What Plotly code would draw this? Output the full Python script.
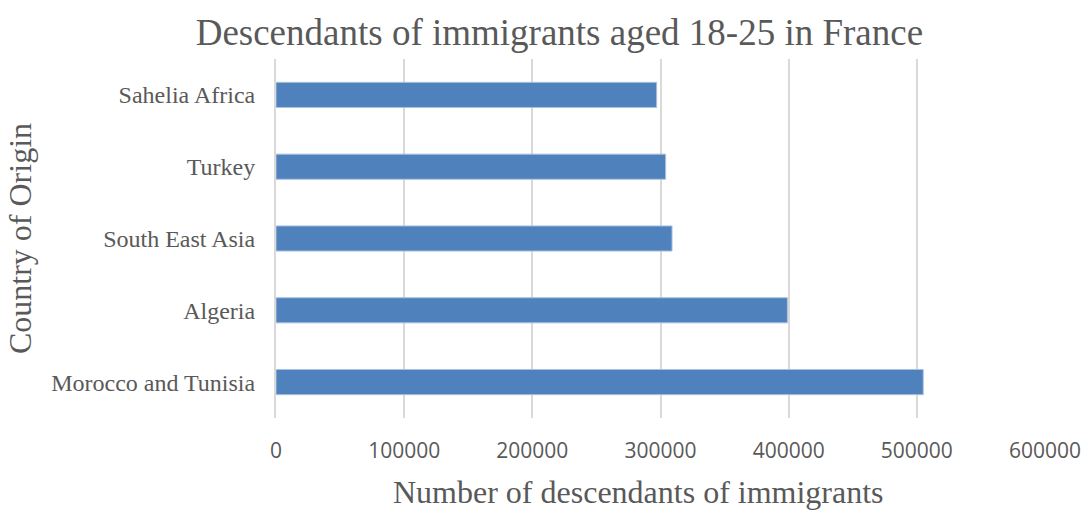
import plotly.graph_objects as go

categories = ["Morocco and Tunisia", "Algeria", "South East Asia", "Turkey", "Sahelia Africa"]
values = [505000, 399000, 309000, 304000, 297000]
x_ticks = [0, 100000, 200000, 300000, 400000, 500000, 600000]
x_tick_labels = [str(v) for v in x_ticks]

fig = go.Figure(go.Bar(
    y=categories, x=values, orientation="h",
    marker=dict(color="#4f81bd", line=dict(color="#a9c1e0", width=1)),
))

fig.update_layout(
    width=1082, height=510,
    margin=dict(l=276, r=37, t=59, b=92),
    paper_bgcolor="white", plot_bgcolor="white",
    bargap=0.65,
    showlegend=False,
    title=dict(text="Descendants of immigrants aged 18-25 in France",
               x=0.517, xanchor="center", y=0.937, yanchor="middle",
               font=dict(family="Liberation Serif", size=37, color="#595959")),
    annotations=[dict(text="Number of descendants of immigrants",
                      xref="paper", yref="paper", x=0.4714, y=-0.205,
                      xanchor="center", yanchor="middle", showarrow=False,
                      font=dict(family="Liberation Serif", size=32, color="#595959"))],
)
fig.update_xaxes(
    range=[0, 600000], tickvals=x_ticks, ticktext=x_tick_labels,
    automargin=False,
    showgrid=True, gridcolor="#d9d9d9", gridwidth=2,
    zeroline=False, showline=False,
    ticks="outside", ticklen=14, tickcolor="rgba(0,0,0,0)",
    tickfont=dict(family="Open Sans", size=21, color="#595959"),
)
fig.update_yaxes(
    automargin=False,
    showgrid=False, zeroline=False,
    showline=True, linecolor="#d9d9d9", linewidth=2,
    ticks="outside", ticklen=14, tickcolor="rgba(0,0,0,0)",
    tickfont=dict(family="Liberation Serif", size=24, color="#595959"),
    title=dict(text="Country of Origin", standoff=10,
               font=dict(family="Liberation Serif", size=32, color="#595959")),
)

fig.write_html("out.html")
